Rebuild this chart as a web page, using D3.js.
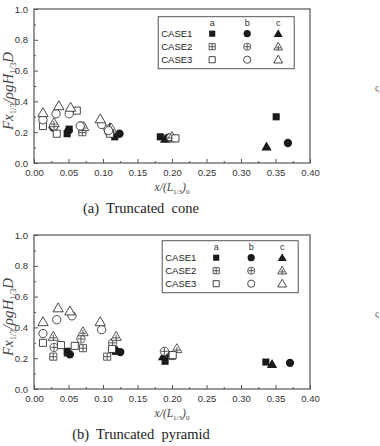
<!DOCTYPE html>
<html>
<head>
<meta charset="utf-8">
<script src="https://cdn.jsdelivr.net/npm/d3@7"></script>
<style>
  body { margin: 0; background: #fff; }
  svg { display: block; }
</style>
</head>
<body>
<div id="container"></div>
<script>
let w = 380;
let h = 446;

// DATA  [x/(L1/3)0, Fx/(rho g H D)]
let cases = ["CASE1", "CASE2", "CASE3"];
let models = ["a", "b", "c"];
let xTicks = [0, 0.05, 0.10, 0.15, 0.20, 0.25, 0.30, 0.35, 0.40];
let yTicks = [0, 0.2, 0.4, 0.6, 0.8, 1.0];

// (a) Truncated cone
let coneCase1a = [[0.048, 0.19], [0.051, 0.22], [0.117, 0.17], [0.183, 0.17], [0.351, 0.30]];
let coneCase1b = [[0.028, 0.23], [0.050, 0.21], [0.124, 0.19], [0.195, 0.165], [0.368, 0.13]];
let coneCase1c = [[0.028, 0.25], [0.110, 0.23], [0.190, 0.155], [0.337, 0.105]];
let coneCase2a = [[0.070, 0.20], [0.070, 0.22], [0.108, 0.21], [0.200, 0.16]];
let coneCase2b = [[0.029, 0.24], [0.068, 0.24], [0.107, 0.22], [0.198, 0.165]];
let coneCase2c = [[0.029, 0.26], [0.072, 0.235], [0.112, 0.225], [0.200, 0.17]];
let coneCase3a = [[0.013, 0.24], [0.033, 0.19], [0.062, 0.34], [0.110, 0.19], [0.205, 0.16]];
let coneCase3b = [[0.013, 0.28], [0.032, 0.32], [0.051, 0.32], [0.067, 0.24], [0.098, 0.25], [0.108, 0.21]];
let coneCase3c = [[0.013, 0.325], [0.036, 0.37], [0.053, 0.36], [0.096, 0.285]];

// (b) Truncated pyramid
let pyrCase1a = [[0.048, 0.245], [0.118, 0.245], [0.190, 0.18], [0.336, 0.175]];
let pyrCase1b = [[0.052, 0.225], [0.125, 0.24], [0.197, 0.22], [0.371, 0.17]];
let pyrCase1c = [[0.050, 0.235], [0.120, 0.25], [0.187, 0.21], [0.345, 0.16]];
let pyrCase2a = [[0.028, 0.21], [0.071, 0.265], [0.106, 0.21], [0.200, 0.215]];
let pyrCase2b = [[0.029, 0.27], [0.068, 0.325], [0.114, 0.30], [0.189, 0.245]];
let pyrCase2c = [[0.028, 0.34], [0.071, 0.37], [0.119, 0.34], [0.207, 0.26]];
let pyrCase3a = [[0.013, 0.30], [0.039, 0.285], [0.059, 0.28], [0.113, 0.26], [0.201, 0.22]];
let pyrCase3b = [[0.013, 0.36], [0.033, 0.45], [0.055, 0.475], [0.098, 0.385]];
let pyrCase3c = [[0.013, 0.435], [0.035, 0.525], [0.052, 0.505], [0.096, 0.435]];

let panels = [
    {caption: "(a)  Truncated  cone", top: 9, series: [
        [coneCase1a, coneCase1b, coneCase1c],
        [coneCase2a, coneCase2b, coneCase2c],
        [coneCase3a, coneCase3b, coneCase3c]]},
    {caption: "(b)  Truncated  pyramid", top: 235, series: [
        [pyrCase1a, pyrCase1b, pyrCase1c],
        [pyrCase2a, pyrCase2b, pyrCase2c],
        [pyrCase3a, pyrCase3b, pyrCase3c]]}
];

let ink = "#1a1a1a";
let axisCol = "#555";
let shapes = [d3.symbolSquare, d3.symbolCircle, d3.symbolTriangle];
let shapeSize = [50, 54, 46];

let viz = d3.select("#container").append("svg")
    .attr("width", w)
    .attr("height", h)
    .style("font-family", "'Liberation Sans', Arial, sans-serif");

// draws one marker: row = case (filled / crossed / open), col = model shape
function marker(g, row, col, scale) {
    let sym = d3.symbol().type(shapes[col]).size(shapeSize[col] * scale);
    let off = col === 2 ? 0.7 : 0;
    if (row === 0) {
        g.append("path").attr("d", sym()).attr("transform", "translate(0," + off + ")")
            .attr("fill", ink);
    } else {
        g.append("path").attr("d", sym()).attr("transform", "translate(0," + off + ")")
            .attr("fill", "#fff").attr("stroke", row === 1 ? "#444" : "#333").attr("stroke-width", 0.9);
        if (row === 1) {
            let r = Math.sqrt(shapeSize[col] * scale) / 2 - 0.3;
            g.append("path")
                .attr("d", "M" + (-r) + ",0H" + r + "M0," + (-r) + "V" + r)
                .attr("transform", "translate(0," + (col === 2 ? 1.2 : 0) + ")")
                .attr("stroke", "#444").attr("stroke-width", 0.9);
        }
    }
}

panels.forEach((p) => {
    let x = d3.scaleLinear().domain([0, 0.4]).range([34, 310]);
    let y = d3.scaleLinear().domain([0, 1]).range([p.top + 154, p.top]);
    let g = viz.append("g");

    // frame
    g.append("rect")
        .attr("x", x(0)).attr("y", y(1))
        .attr("width", x(0.4) - x(0)).attr("height", y(0) - y(1))
        .attr("fill", "none").attr("stroke", axisCol).attr("stroke-width", 1.2);

    // x axis, ticks inward
    g.append("g").attr("transform", "translate(0," + y(0) + ")")
        .call(d3.axisBottom(x).tickValues(xTicks).tickSize(-4).tickPadding(6).tickFormat(d3.format(".2f")));
    g.append("g").attr("transform", "translate(0," + y(0) + ")")
        .call(d3.axisBottom(x).tickValues(d3.range(0.025, 0.4, 0.05)).tickSize(-2).tickFormat(""));
    // y axis
    g.append("g").attr("transform", "translate(" + x(0) + ",0)")
        .call(d3.axisLeft(y).tickValues(yTicks).tickSize(-4).tickPadding(6).tickFormat(d3.format(".1f")));
    g.append("g").attr("transform", "translate(" + x(0) + ",0)")
        .call(d3.axisLeft(y).tickValues([0.1, 0.3, 0.5, 0.7, 0.9]).tickSize(-2).tickFormat(""));

    g.selectAll(".domain").remove();
    g.selectAll(".tick line").attr("stroke", axisCol);
    g.selectAll(".tick text").attr("fill", "#333").style("font-size", "9.5px")
        .style("font-family", "'Liberation Sans', Arial, sans-serif");

    // points
    p.series.forEach((rowSeries, row) => {
        rowSeries.forEach((pts, col) => {
            pts.forEach((d) => {
                let m = g.append("g").attr("transform", "translate(" + x(d[0]) + "," + y(d[1]) + ")");
                marker(m, row, col, 1);
            });
        });
    });

    // legend
    let lx = x(0.18) + (p.top > 100 ? 4 : 0);
    let ly = y(0.95) + (p.top > 100 ? -2 : 0);
    let leg = g.append("g").attr("transform", "translate(" + lx + "," + ly + ")");
    leg.append("rect").attr("width", 136).attr("height", 52)
        .attr("fill", "#fff").attr("stroke", axisCol).attr("stroke-width", 1);
    let colX = [54, 89, 120];
    models.forEach((m, i) => {
        leg.append("text").attr("x", colX[i]).attr("y", 9).attr("text-anchor", "middle")
            .attr("fill", "#333").style("font-size", "9px").text(m);
    });
    cases.forEach((c, row) => {
        let ry = 17 + row * 13;
        leg.append("text").attr("x", 3).attr("y", ry + 3.5).attr("fill", "#222")
            .style("font-size", "9.5px").text(c);
        models.forEach((m, col) => {
            marker(leg.append("g").attr("transform", "translate(" + colX[col] + "," + ry + ")"), row, col, 0.75);
        });
    });

    // x label
    let xl = g.append("text").attr("x", 172).attr("y", y(0) + 28).attr("text-anchor", "middle")
        .attr("fill", "#444").style("font-family", "'Liberation Serif', 'DejaVu Serif', serif")
        .style("font-style", "italic").style("font-size", "11.5px");
    xl.append("tspan").text("x/(L");
    xl.append("tspan").attr("dy", 3).style("font-size", "7px").style("font-style", "normal").text("1/3");
    xl.append("tspan").attr("dy", -3).text(")");
    xl.append("tspan").attr("dy", 3).style("font-size", "7px").style("font-style", "normal").text("0");

    // y label
    let yl = g.append("text").attr("transform", "translate(13," + (p.top + 82) + ") rotate(-90)")
        .attr("text-anchor", "middle").attr("fill", "#444")
        .style("font-family", "'Liberation Serif', 'DejaVu Serif', serif")
        .style("font-style", "italic").style("font-size", "15px");
    yl.append("tspan").text("Fx");
    yl.append("tspan").attr("dy", 3).style("font-size", "8.5px").style("font-style", "normal").text("1/3");
    yl.append("tspan").attr("dy", -3).text("/ρgH");
    yl.append("tspan").attr("dy", 3).style("font-size", "8.5px").style("font-style", "normal").text("1/3");
    yl.append("tspan").attr("dy", -3).text("D");

    // caption
    g.append("text").attr("x", 141).attr("y", y(0) + 50).attr("text-anchor", "middle")
        .attr("fill", "#222").style("font-family", "'Liberation Serif', 'DejaVu Serif', serif")
        .style("font-size", "14.5px").style("white-space", "pre").attr("xml:space", "preserve")
        .text(p.caption);

    // clipped fragment of the neighbouring figure
    g.append("text").attr("x", 375).attr("y", p.top + 82).attr("fill", "#666")
        .style("font-family", "'Liberation Serif', serif").style("font-size", "10px").text("ς");
});
</script>
</body>
</html>
